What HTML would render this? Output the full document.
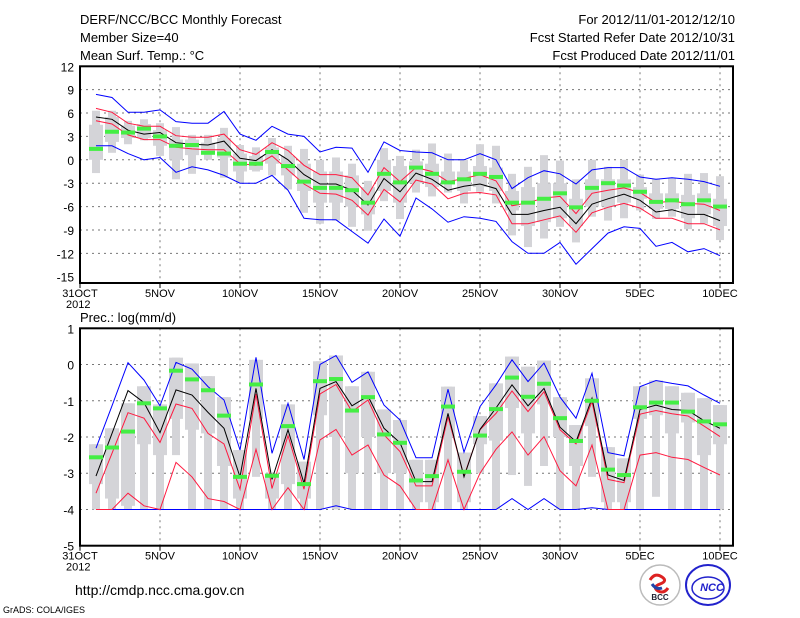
<!DOCTYPE html>
<html><head><meta charset="utf-8"><style>
body{margin:0;background:#fff;}
svg{display:block;font-family:"Liberation Sans",sans-serif;}
</style></head><body>
<svg id="chart" width="800" height="618" xmlns="http://www.w3.org/2000/svg">
<rect width="800" height="618" fill="#fff"/>
<g font-size="13" fill="#000">
<text x="80" y="24">DERF/NCC/BCC Monthly Forecast</text>
<text x="80" y="42">Member Size=40</text>
<text x="80" y="60">Mean Surf. Temp.: °C</text>
</g>
<g font-size="13" fill="#000" text-anchor="end">
<text x="735" y="24">For 2012/11/01-2012/12/10</text>
<text x="735" y="42">Fcst Started Refer Date 2012/10/31</text>
<text x="735" y="60">Fcst Produced Date 2012/11/01</text>
</g>
<text x="80" y="322" font-size="13">Prec.: log(mm/d)</text>
<text x="75" y="595" font-size="14">http://cmdp.ncc.cma.gov.cn</text>
<text x="3" y="613" font-size="9">GrADS: COLA/IGES</text>
<g>
<circle cx="660" cy="585" r="20" fill="#fff" stroke="#bbb" stroke-width="1.5"/>
<path d="M650 580 q5 -8 12 -3 q6 4 -2 7 q-8 3 -2 7 q6 3 10 -3" fill="none" stroke="#d22" stroke-width="3"/>
<path d="M652 584 q4 6 10 4" fill="none" stroke="#24a" stroke-width="3"/>
<text x="660" y="600" font-size="8" font-weight="bold" text-anchor="middle" fill="#223">BCC</text>
</g>
<g>
<ellipse cx="708" cy="585" rx="22" ry="20" fill="#fff" stroke="#22c" stroke-width="2"/>
<ellipse cx="708" cy="588" rx="16" ry="11" fill="none" stroke="#22c" stroke-width="1.5"/>
<text x="712" y="591" font-size="11" font-weight="bold" font-style="italic" text-anchor="middle" fill="#22c">NCC</text>
</g>
<g id="top"></g>
<g id="bot"></g>
</svg>
<script>
// ---- Temperature data (Nov 1 .. Dec 10) ----
const tMean=[5.5,5.2,3.8,3.3,3.5,2.2,2.0,1.9,2.4,0.2,-0.1,1.3,0.0,-1.9,-3.1,-3.1,-3.9,-5.8,-2.4,-4.1,-1.7,-2.5,-3.9,-3.4,-3.1,-3.7,-7.0,-7.0,-6.5,-6.1,-8.2,-5.7,-5.0,-4.4,-5.2,-6.7,-6.4,-7.0,-7.0,-7.8];
const tRedHi=[6.6,6.1,4.7,4.3,4.3,3.1,2.9,2.9,3.3,1.3,0.7,2.2,1.2,-0.7,-1.9,-1.9,-2.3,-4.5,-1.0,-2.8,-1.0,-1.5,-2.8,-2.4,-1.9,-2.7,-5.9,-5.5,-4.9,-4.7,-6.9,-4.3,-3.9,-3.6,-4.2,-5.5,-5.3,-5.6,-5.7,-6.5];
const tRedLo=[5.0,4.6,3.2,2.6,2.6,1.6,1.4,1.3,1.3,-0.5,-0.7,0.5,-1.3,-3.1,-4.3,-4.4,-5.2,-7.1,-3.8,-5.4,-2.6,-3.1,-5.0,-4.3,-4.2,-4.5,-8.2,-8.2,-7.7,-7.2,-9.3,-6.8,-6.1,-5.6,-6.2,-7.5,-7.5,-8.2,-8.2,-9.0];
const tBlueHi=[8.4,8.0,6.1,6.1,6.4,4.9,4.7,4.7,6.2,3.3,2.5,4.3,3.3,3.0,1.0,1.6,1.5,-1.6,2.3,1.2,1.0,0.9,0.0,0.0,0.8,0.0,-3.7,-2.3,-1.4,-1.8,-3.1,-1.3,-1.0,-1.0,-2.2,-2.5,-2.3,-2.5,-2.8,-3.4];
const tBlueLo=[1.8,1.8,0.8,0.0,0.3,-1.6,-0.9,-1.3,-2.0,-3.0,-3.0,-2.0,-3.9,-7.5,-7.7,-7.7,-9.2,-10.7,-7.6,-9.8,-4.9,-6.3,-8.0,-7.3,-7.5,-7.9,-10.5,-12.0,-12.0,-10.6,-13.4,-11.4,-9.4,-8.6,-8.8,-11.1,-10.6,-11.8,-11.4,-12.3];
const tObs=[1.4,3.6,3.5,4.0,3.0,1.8,1.9,0.9,0.8,-0.5,-0.5,1.0,-0.8,-2.8,-3.6,-3.6,-3.9,-5.5,-1.8,-2.9,-1.0,-1.8,-2.9,-2.5,-1.8,-2.2,-5.5,-5.5,-5.0,-4.3,-6.1,-3.6,-3.0,-3.3,-4.1,-5.4,-5.2,-5.7,-5.2,-6.0];
const tTallHi=[6.3,6.3,5.0,5.2,4.7,4.2,3.2,3.2,4.1,1.9,1.6,2.8,1.8,1.4,0.0,0.3,-0.5,-2.7,1.5,0.5,1.3,2.1,0.8,0.0,2.0,1.8,-1.8,-0.9,0.6,-0.1,-2.5,0.0,-0.9,0.0,-1.9,-2.4,-2.4,-1.8,-1.7,-2.1];
const tTallLo=[-1.7,0.9,2.0,2.5,0.5,-2.5,-1.8,0.0,-2.3,-3.0,-1.5,-2.0,-3.8,-6.8,-8.2,-7.8,-8.6,-9.1,-5.3,-7.6,-4.2,-4.7,-4.2,-5.6,-4.1,-5.6,-9.7,-11.2,-10.1,-8.6,-10.6,-7.3,-7.8,-7.5,-6.5,-7.6,-7.3,-8.9,-8.2,-10.3];
const tBoxHi=[4.5,5.5,4.4,4.6,3.8,2.6,2.6,2.2,2.8,0.8,0.5,1.6,0.5,-0.5,-1.5,-1.5,-2.0,-3.5,0.0,-0.8,-0.2,-0.5,-1.5,-1.5,-0.8,-1.0,-4.0,-3.5,-3.0,-3.0,-5.0,-2.5,-2.5,-2.5,-3.5,-4.3,-4.3,-4.5,-4.3,-5.0];
const tBoxLo=[0.0,2.3,2.8,2.8,1.8,0.0,0.6,1.0,0.3,-1.5,-1.3,-0.5,-2.0,-4.0,-5.5,-5.5,-6.0,-7.0,-4.0,-5.5,-3.0,-3.5,-3.0,-4.0,-3.5,-4.0,-6.5,-8.5,-8.0,-7.5,-8.5,-6.0,-6.0,-5.5,-5.0,-6.3,-6.3,-7.5,-7.0,-8.5];
const tTicks=[12,9,6,3,0,-3,-6,-9,-12,-15];
// ---- Precipitation data ----
const pMean=[-3.08,-1.9,-0.72,-1.05,-1.88,-0.7,-0.84,-1.32,-1.76,-3.1,-0.66,-3.17,-1.8,-3.28,-0.66,-0.47,-1.14,-0.87,-1.76,-2.16,-3.23,-3.23,-1.35,-3.1,-1.79,-1.2,-0.56,-1.14,-0.66,-1.73,-2.13,-0.93,-3.05,-3.2,-1.24,-1.12,-1.24,-1.27,-1.55,-1.76];
const pRedHi=[-3.55,-2.45,-1.33,-1.48,-2.15,-1.09,-1.21,-1.9,-2.19,-3.44,-0.81,-3.42,-1.96,-3.44,-0.81,-0.55,-1.3,-0.98,-1.94,-2.4,-3.35,-3.35,-1.44,-3.08,-1.8,-1.35,-0.73,-1.3,-0.75,-1.8,-2.19,-1.02,-3.17,-3.26,-1.37,-1.27,-1.36,-1.42,-1.7,-1.99];
const pRedLo=[-4,-4,-3.55,-3.9,-4,-2.7,-3.1,-3.7,-3.78,-4,-2.34,-4,-3.4,-4,-2.08,-1.79,-2.5,-2.22,-3.05,-3.35,-4,-4,-2.63,-4,-3.0,-2.34,-1.86,-2.5,-1.99,-2.93,-3.35,-2.22,-4,-4,-2.5,-2.43,-2.56,-2.62,-2.84,-3.05];
const pBlueHi=[-2.31,-1.14,0.05,-0.43,-1.14,0.06,-0.13,-0.61,-0.98,-2.36,0.2,-2.45,-1.07,-2.62,0.0,0.25,-0.49,-0.2,-1.12,-1.53,-2.57,-2.57,-0.68,-2.42,-1.16,-0.56,0.13,-0.47,0.04,-0.9,-1.48,-0.24,-2.43,-2.52,-0.61,-0.44,-0.52,-0.59,-0.84,-1.07];
const pBlueLo=[-4,-4,-4,-4,-4,-4,-4,-4,-4,-4,-4,-4,-4,-4,-4,-3.9,-4,-4,-4,-4,-4,-4,-4,-4,-4,-4,-3.7,-4,-3.7,-4,-4,-3.95,-4,-4,-4,-4,-4,-4,-4,-4];
const pObs=[-2.56,-2.29,-1.85,-1.07,-1.21,-0.17,-0.41,-0.71,-1.41,-3.1,-0.55,-3.07,-1.7,-3.3,-0.46,-0.4,-1.27,-0.9,-1.93,-2.16,-3.2,-3.08,-1.16,-2.96,-1.96,-1.23,-0.36,-0.89,-0.53,-1.48,-2.11,-1.0,-2.9,-3.05,-1.18,-1.05,-1.05,-1.3,-1.57,-1.65];
const pTallHi=[-2.2,-1.76,-1.07,-0.6,-1.1,0.19,0.03,-0.32,-0.9,-2.36,0.13,-3.0,-1.1,-2.68,0.09,0.25,-0.6,-0.2,-1.24,-1.53,-2.63,-2.63,-0.61,-2.43,-1.42,-0.52,0.22,-0.06,0.11,-0.9,-1.67,-0.38,-2.28,-2.59,-0.6,-0.44,-0.6,-0.78,-0.93,-1.12];
const pTallLo=[-4,-4,-4,-4,-4,-2.5,-4,-4,-4,-4,-3.1,-4,-4,-4,-4,-4,-4,-4,-4,-4,-4,-4,-4,-4,-3.0,-4,-3.05,-3.35,-2.8,-4,-4,-3.1,-4,-4,-4,-3.65,-4,-4,-4,-4];
const pBoxHi=[-2.2,-1.76,-1.07,-0.6,-1.1,0.19,0.03,-0.32,-0.9,-2.36,0.13,-3.0,-1.1,-2.68,0.09,0.25,-0.6,-0.2,-1.24,-1.53,-2.63,-2.63,-0.61,-2.43,-1.42,-0.52,0.22,-0.06,0.11,-0.9,-1.67,-0.38,-2.28,-2.59,-0.6,-0.44,-0.6,-0.78,-0.93,-1.12];
const pBoxLo=[-3.3,-3.7,-3.9,-2.2,-2.5,-1.5,-1.8,-1.9,-2.8,-3.7,-1.5,-3.7,-3.3,-3.7,-1.4,-2.0,-3.0,-2.0,-3.0,-3.0,-3.8,-3.8,-2.0,-3.8,-2.2,-2.1,-1.2,-1.9,-1.1,-2.0,-2.8,-1.7,-3.8,-3.8,-1.5,-1.4,-1.9,-1.6,-2.5,-2.2];
const pTicks=[1,0,-1,-2,-3,-4,-5];
const xLabels=["31OCT","5NOV","10NOV","15NOV","20NOV","25NOV","30NOV","5DEC","10DEC"];

const NS="http://www.w3.org/2000/svg";
const X0=80,L=80,R=733;
function xDay(d){return X0+16*d;} // d = days after Oct 31
function mk(tag,attrs,parent){const e=document.createElementNS(NS,tag);for(const k in attrs)e.setAttribute(k,attrs[k]);parent.appendChild(e);return e;}

function panel(g,top,bot,vTop,vBot,frameBot,ticks,series){
  const sc=v=>top+(vTop-v)*(bot-top)/(vTop-vBot);
  // grid
  ticks.forEach(t=>{ if(t!==vTop&&t!==vBot){const ln=mk('line',{x1:L,x2:R,y1:sc(t),y2:sc(t),stroke:'#777','stroke-dasharray':'2,4','stroke-width':1},g);
    
    }
    const tx=mk('text',{x:L-6,y:sc(t)+5,'font-size':12,'text-anchor':'end'},g);tx.textContent=t;
    
    
  });
  xLabels.forEach((lab,k)=>{const x=xDay(5*k);
    if(k>0){const ln=mk('line',{x1:x,x2:x,y1:top,y2:frameBot,stroke:'#777','stroke-dasharray':'2,4'},g);
      
      }
    mk('line',{x1:x,x2:x,y1:frameBot,y2:frameBot+5,stroke:'#000'},g);
    const tx=mk('text',{x:x,y:frameBot+14,'font-size':11,'text-anchor':'middle'},g);tx.textContent=lab;
    
    
  });
  const yr=mk('text',{x:L-14,y:frameBot+25,'font-size':11},g);yr.textContent='2012';
  
  
  // boxes
  for(let i=0;i<40;i++){const x=xDay(i+1);
    const b1=mk('rect',{x:x-4,y:sc(series.tallHi[i]),width:8,height:Math.max(0,sc(series.tallLo[i])-sc(series.tallHi[i])),fill:'#d4d4d8'},g);
    
    
    const b2=mk('rect',{x:x-7,y:sc(series.boxHi[i]),width:14,height:Math.max(0,sc(series.boxLo[i])-sc(series.boxHi[i])),fill:'#d4d4d8'},g);
    
    
  }
  const line=(arr,col,name)=>{const p=mk('polyline',{points:arr.map((v,i)=>xDay(i+1)+','+sc(v).toFixed(1)).join(' '),fill:'none',stroke:col,'stroke-width':1},g);
    
    };
  line(series.blueHi,'#0000ff','blue-upper-line');line(series.blueLo,'#0000ff','blue-lower-line');
  line(series.redHi,'#ff1a40','red-upper-line');line(series.redLo,'#ff1a40','red-lower-line');
  line(series.mean,'#000','ensemble-mean-line');
  series.obs.forEach((v,i)=>{const r=mk('rect',{x:xDay(i+1)-7,y:sc(v)-2,width:14,height:4,fill:'#44ee44'},g);
    
    });
  const f=mk('rect',{x:L,y:top,width:R-L,height:frameBot-top,fill:'none',stroke:'#000','stroke-width':2},g);
  
  
}
panel(document.getElementById('top'),66.3,276.7,12,-15,283,tTicks,
 {mean:tMean,redHi:tRedHi,redLo:tRedLo,blueHi:tBlueHi,blueLo:tBlueLo,obs:tObs,tallHi:tTallHi,tallLo:tTallLo,boxHi:tBoxHi,boxLo:tBoxLo});
panel(document.getElementById('bot'),328.3,545.7,1,-5,545.7,pTicks,
 {mean:pMean,redHi:pRedHi,redLo:pRedLo,blueHi:pBlueHi,blueLo:pBlueLo,obs:pObs,tallHi:pTallHi,tallLo:pTallLo,boxHi:pBoxHi,boxLo:pBoxLo});
</script>
</body></html>
